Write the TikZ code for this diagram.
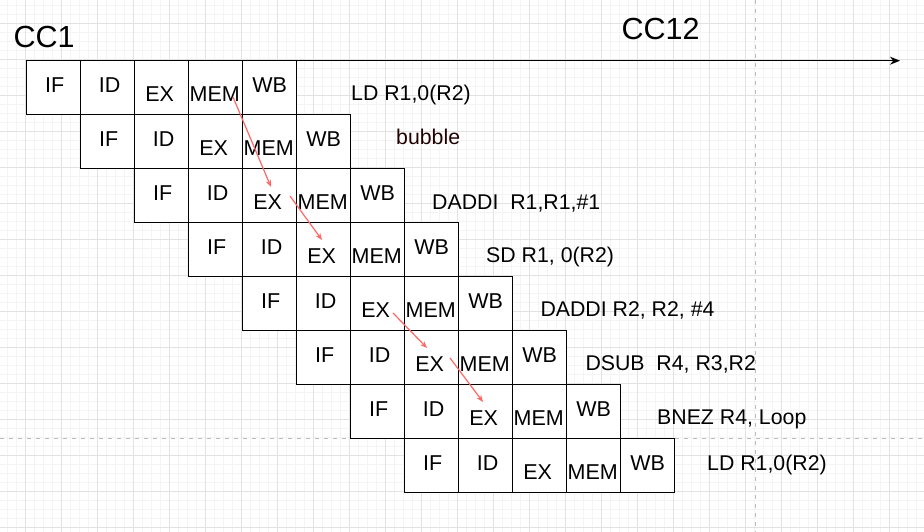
\documentclass[tikz,border=0pt]{standalone}
\usepackage{fontspec}
\setmainfont{Liberation Sans}
\usetikzlibrary{calc,arrows.meta}
\definecolor{gmaj}{HTML}{E2E2E2}
\definecolor{gmin}{HTML}{F4F4F4}
\definecolor{dashg}{HTML}{BDBDBD}
\definecolor{fwd}{HTML}{FF6666}
\definecolor{bub}{HTML}{220000}
\begin{document}
\begin{tikzpicture}[x=1pt,y=-1pt,
  cell/.style={draw=black,fill=white,line width=1.3pt,minimum width=54pt,minimum height=54pt,inner sep=0pt,outer sep=0pt},
  stg/.style={anchor=base,inner sep=0pt,font=\fontsize{21.5}{24}\selectfont},
  instr/.style={anchor=base west,inner sep=0pt,font=\fontsize{21.3}{24}\selectfont},
  cclabel/.style={anchor=base west,inner sep=0pt,font=\fontsize{30.5}{34}\selectfont},
  fwdarrow/.style={draw=fwd,line width=1.2pt,-{Stealth[length=7pt,width=5.5pt]}},
  axisarrow/.style={draw=black,line width=1.3pt,-{Stealth[length=10pt,width=8pt]}},
  gridmin/.style={draw=gmin,line width=0.8pt},
  gridmaj/.style={draw=gmaj,line width=1pt},
  guide/.style={draw=dashg,line width=1pt,dash pattern=on 4pt off 5pt}]
\useasboundingbox (0,0) rectangle (924,532);
\fill[white] (0,0) rectangle (924,532);
% grid
\foreach \k in {0,...,102} {\draw[gridmin] ({7.3+9*\k},0) -- ({7.3+9*\k},532);}
\foreach \k in {0,...,59} {\draw[gridmin] (0,{5.3+9*\k}) -- (924,{5.3+9*\k});}
\foreach \k in {0,...,25} {\draw[gridmaj] ({25.3+36*\k},0) -- ({25.3+36*\k},532);}
\foreach \k in {0,...,14} {\draw[gridmaj] (0,{23.3+36*\k}) -- (924,{23.3+36*\k});}
% guides
\draw[guide] (755.7,0) -- (755.7,532);
\draw[guide] (0,438.3) -- (924,438.3);
% cells
\foreach \i in {0,...,7} {
  \foreach \j in {0,...,4} {
    \node[cell] (b\i\j) at ({26.7+54*(\i+\j)+27},{60.7+54*\i+27}) {};
  }
}
\foreach \i in {0,...,7} {
  \foreach \j/\t/\dx/\dy in {0/IF/1/32, 1/ID/2/32, 2/EX/-2/41, 3/MEM/-1/41, 4/WB/0/32} {
    \node[stg] (t\i\j) at ($(b\i\j.north)+(\dx,\dy)$) {\t};
  }
}
% axis
\node[cclabel] (cc1) at (13.5,47.7) {CC1};
\node[cclabel] (cc12) at (621.5,40) {CC12};
\coordinate (axend) at (900,60.7);
\draw[axisarrow] (b00.north west) -- (axend);
% instructions
\node[instr] (l0) at (351,101) {LD R1,0(R2)};
\node[instr,text=bub] (l1) at (396,145) {bubble};
\node[instr] (l2) at (432,209) {DADDI\ \ R1,R1,\#1};
\node[instr] (l3) at (486,262.7) {SD R1, 0(R2)};
\node[instr] (l4) at (540.3,316) {DADDI R2, R2, \#4};
\node[instr] (l5) at (585.3,370.7) {DSUB\ \ R4, R3,R2};
\node[instr] (l6) at (657,424.3) {BNEZ R4, Loop};
\node[instr] (l7) at (707,470) {LD R1,0(R2)};
% forwarding arrows
\draw[fwdarrow] ($(b03.center)+(17.3,9.3)$) -- ($(b22.center)+(1.3,-8.7)$);
\draw[fwdarrow] ($(b22.center)+(20.3,0.3)$) -- ($(b32.center)+(-1.7,-9.7)$);
\draw[fwdarrow] ($(b42.center)+(15.3,9.3)$) -- ($(b52.center)+(-4.7,-9.7)$);
\draw[fwdarrow] ($(b52.center)+(18.3,0.3)$) -- ($(b62.center)+(-2.7,-9.7)$);
\end{tikzpicture}
\end{document}
